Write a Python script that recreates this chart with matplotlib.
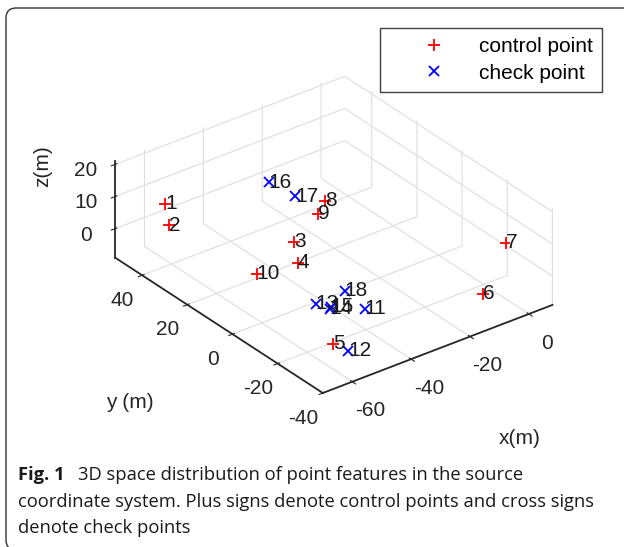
"""3D scatter of control / check points in the source coordinate system."""
import matplotlib

matplotlib.use("Agg")
import matplotlib.pyplot as plt
from matplotlib.patches import FancyBboxPatch
from mpl_toolkits.mplot3d import proj3d

# --------------------------------------------------------------------------- #
# Data (metres)
# --------------------------------------------------------------------------- #
ctrl_ids = [1, 2, 3, 4, 5, 6, 7, 8, 9, 10]
ctrl_x = [-56.3, -57.5, -39.2, -42.1, -63.3, -13.7, 7.0, -31.7, -32.2, -57.6]
ctrl_y = [47.6, 44.6, 13.0, 7.5, -35.7, -37.6, -20.9, 9.0, 11.4, 5.4]
ctrl_z = [5, 0, 3, 0, 2, 1, 2, 15, 10, 3]

check_ids = [11, 12, 13, 14, 15, 16, 17, 18]
check_x = [-39.7, -55.0, -51.7, -48.2, -48.4, -43.1, -38.9, -41.2]
check_y = [-19.1, -31.6, -13.0, -14.7, -15.4, 19.1, 12.9, -12.2]
check_z = [-3, -5, 0, -2, -1, 20, 17, 0]

x_ticks = [-60, -40, -20, 0]
y_ticks = [-40, -20, 0, 20, 40]
z_ticks = [0, 10, 20]
x_lim = (-70, 8)
y_lim = (-40, 52)
z_lim = (-9, 21)

caption_bold = "Fig. 1"
caption_lines = [
    "3D space distribution of point features in the source",
    "coordinate system. Plus signs denote control points and cross signs",
    "denote check points",
]

FS = 15          # axis / legend text size (pt)
CAP_FS = 13.2    # caption size (pt)
INK = "0.15"

# --------------------------------------------------------------------------- #
# Figure
# --------------------------------------------------------------------------- #
plt.rcParams["font.family"] = ["Liberation Sans", "DejaVu Sans"]
plt.rcParams["grid.color"] = "#dedede"
plt.rcParams["grid.linewidth"] = 0.8
plt.rcParams["axes.unicode_minus"] = False

fig = plt.figure(figsize=(6.24, 5.47), dpi=100)

# rounded frame: top/left edges inside the picture, other corners just outside
frame = FancyBboxPatch(
    (0.06, -0.03), 6.28, 5.42,
    boxstyle="round,pad=0,rounding_size=0.1",
    transform=fig.dpi_scale_trans, fill=False, edgecolor="0.2", linewidth=1.0,
)
fig.patches.append(frame)

ax = fig.add_axes([0.077, 0.235, 0.9, 0.66], projection="3d")
ax.set_proj_type("ortho")
ax.view_init(elev=30, azim=-127.5)
ax.set_box_aspect((78, 92, 30), zoom=1.24)
ax.set_xlim(*x_lim)
ax.set_ylim(*y_lim)
ax.set_zlim(*z_lim)

ax.plot(ctrl_x, ctrl_y, ctrl_z, "+", color="red", markersize=9, mew=1.3,
        linestyle="none", label="control point")
ax.plot(check_x, check_y, check_z, "x", color="blue", markersize=7, mew=1.3,
        linestyle="none", label="check point")

# point numbers: project through the axes' own 3D transform, then annotate
M = ax.get_proj()
for ids, xs, ys, zs in ((ctrl_ids, ctrl_x, ctrl_y, ctrl_z),
                        (check_ids, check_x, check_y, check_z)):
    for i, x, y, z in zip(ids, xs, ys, zs):
        px, py, _ = proj3d.proj_transform(x, y, z, M)
        ax.annotate(str(i), xy=(px, py), xytext=(0, 0), textcoords="offset points",
                    fontsize=FS, color="0.1", ha="left", va="center")

ax.set_xticks(x_ticks)
ax.set_yticks(y_ticks)
ax.set_zticks(z_ticks)
ax.tick_params(labelsize=FS, colors=INK)
ax.tick_params(axis="z", pad=1)

for axis in (ax.xaxis, ax.yaxis, ax.zaxis):
    axis.pane.fill = False
    axis.pane.set_edgecolor("none")
    axis.line.set_color(INK)
    axis.line.set_linewidth(1.3)

# axis titles placed like the MATLAB original
fig.text(43 / 624, 1 - 166 / 547, "z(m)", fontsize=FS, color=INK, rotation=90,
         ha="center", va="center")
fig.text(130 / 624, 1 - 402 / 547, "y (m)", fontsize=FS, color=INK,
         ha="center", va="center")
fig.text(520 / 624, 1 - 438 / 547, "x(m)", fontsize=FS, color=INK,
         ha="center", va="center")

fig.legend(
    loc="upper right", bbox_to_anchor=(0.965, 0.949), bbox_transform=fig.transFigure,
    borderaxespad=0, fontsize=FS, handlelength=4.3, handletextpad=0.0,
    borderpad=0.45, labelspacing=0.35, fancybox=False, edgecolor="0.25",
    framealpha=1,
)

# caption
cap_kw = dict(fontsize=CAP_FS, family="Open Sans", color="0.1", va="center")
fig.text(18 / 624, 1 - 475 / 547, caption_bold, fontweight="bold", **cap_kw)
fig.text(78 / 624, 1 - 475 / 547, caption_lines[0], **cap_kw)
fig.text(18 / 624, 1 - 502 / 547, caption_lines[1], **cap_kw)
fig.text(18 / 624, 1 - 528 / 547, caption_lines[2], **cap_kw)

fig.savefig("out.png", dpi=100)
